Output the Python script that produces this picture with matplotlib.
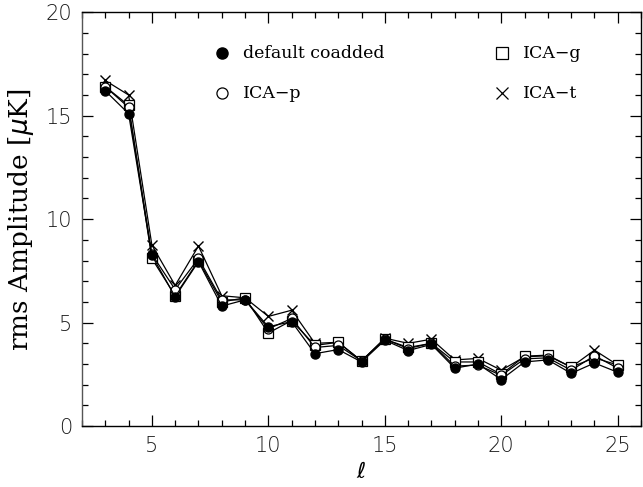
import matplotlib
matplotlib.use('Agg')
import matplotlib.pyplot as plt
from matplotlib.ticker import MultipleLocator

# multipole l and rms amplitudes (muK) for each map
ell = [3, 4, 5, 6, 7, 8, 9, 10, 11, 12, 13, 14, 15, 16, 17, 18, 19, 20, 21, 22, 23, 24, 25]
default_coadded = [16.2, 15.1, 8.25, 6.25, 7.95, 5.8, 6.1, 4.8, 5.05, 3.5, 3.7, 3.1,
                   4.15, 3.65, 3.95, 2.8, 3.0, 2.25, 3.1, 3.2, 2.55, 3.05, 2.6]
ica_p = [16.4, 15.4, 8.3, 6.6, 8.1, 6.1, 6.1, 4.7, 5.2, 3.8, 3.9, 3.15,
         4.2, 3.75, 4.0, 2.9, 2.95, 2.45, 3.25, 3.3, 2.7, 3.4, 2.8]
ica_g = [16.4, 15.5, 8.1, 6.3, 8.0, 6.0, 6.2, 4.5, 5.1, 3.9, 4.05, 3.15,
         4.2, 3.8, 4.0, 3.1, 3.1, 2.5, 3.38, 3.43, 2.85, 3.3, 2.95]
ica_t = [16.7, 16.0, 8.75, 6.8, 8.7, 6.3, 6.2, 5.3, 5.6, 4.0, 4.05, 3.15,
         4.25, 4.0, 4.2, 3.2, 3.27, 2.7, 3.35, 3.4, 2.85, 3.67, 2.95]

fig = plt.figure(figsize=(6.43, 4.87), dpi=100)
ax = fig.add_axes([0.1275, 0.125, 0.8695, 0.85])

lw = 0.9
ax.plot(ell, ica_t, color='k', lw=lw, marker='x', ms=7, mew=1.0)
ax.plot(ell, ica_g, color='k', lw=lw, marker='s', ms=6.5, mfc='white', mew=0.9)
ax.plot(ell, ica_p, color='k', lw=lw, marker='o', ms=6.5, mfc='white', mew=0.9)
ax.plot(ell, default_coadded, color='k', lw=lw, marker='o', ms=6.5, mfc='k')

ax.set_xlim(2, 26)
ax.set_ylim(0, 20)
ax.xaxis.set_major_locator(MultipleLocator(5))
ax.xaxis.set_minor_locator(MultipleLocator(1))
ax.yaxis.set_major_locator(MultipleLocator(5))
ax.yaxis.set_minor_locator(MultipleLocator(1))
ax.tick_params(which='both', direction='in', top=True, right=True, width=0.9)
ax.tick_params(which='major', length=8, labelsize=15, pad=7)
ax.tick_params(which='minor', length=4)
ax.tick_params(axis='both', labelcolor='#1a1a1a')
for lab in ax.get_xticklabels() + ax.get_yticklabels():
    lab.set_fontweight('light')
for sp in ax.spines.values():
    sp.set_linewidth(1.0)
ax.spines['left'].set_color('#555555')

ax.set_ylabel(r'rms Amplitude [$\mu$K]', family='DejaVu Serif', fontsize=19, labelpad=7)
ax.set_xlabel(r'$\ell$', fontsize=16, labelpad=4)

# legend drawn as text + markers in axes coords
lg = dict(family='DejaVu Serif', fontsize=12.5, va='center')
ax.plot([0.25], [0.901], transform=ax.transAxes, marker='o', ms=8, color='k')
ax.text(0.288, 0.901, 'default coadded', transform=ax.transAxes, **lg)
ax.plot([0.25], [0.804], transform=ax.transAxes, marker='o', ms=8, mfc='white', mec='k', mew=0.9)
ax.text(0.288, 0.804, 'ICA\u2212p', transform=ax.transAxes, **lg)
ax.plot([0.751], [0.901], transform=ax.transAxes, marker='s', ms=8, mfc='white', mec='k', mew=0.9)
ax.text(0.789, 0.901, 'ICA\u2212g', transform=ax.transAxes, **lg)
ax.plot([0.751], [0.804], transform=ax.transAxes, marker='x', ms=8, color='k', mew=0.9)
ax.text(0.789, 0.804, 'ICA\u2212t', transform=ax.transAxes, **lg)

fig.savefig('out.png', dpi=100)
